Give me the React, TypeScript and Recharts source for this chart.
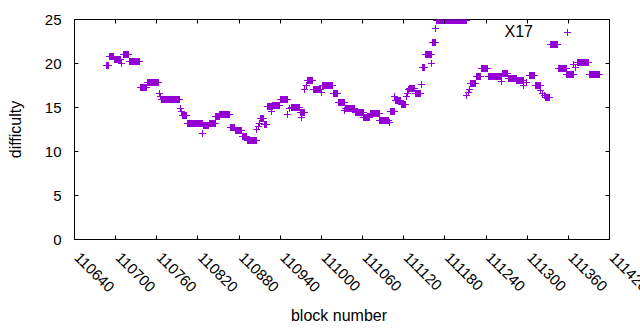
import React from 'react';
import { ScatterChart, Scatter, XAxis, YAxis, ReferenceLine, Legend } from 'recharts';

// ---- data ----
const SERIES_NAME = 'X17';
const X_LABEL = 'block number';
const Y_LABEL = 'difficulty';

const xTicks = [110640, 110700, 110760, 110820, 110880, 110940, 111000, 111060, 111120, 111180, 111240, 111300, 111360, 111420];
const yTicks = [0, 5, 10, 15, 20, 25];

// runs of consecutive blocks sharing the same difficulty
const runStart = [
  110686, 110691, 110698, 110711, 110720, 110736, 110746, 110767, 110797, 110805,
  110828, 110837, 110846, 110852, 110867, 110874, 110885, 110892, 110911, 110917,
  110921, 110929, 110940, 110956, 110969, 110979, 110988, 111001, 111017, 111025,
  111035, 111049, 111062, 111071, 111085, 111100, 111108, 111117, 111128, 111137,
  111147, 111152, 111162, 111168, 111217, 111226, 111233, 111243, 111264, 111273,
  111285, 111304, 111312, 111327, 111334, 111345, 111358, 111374, 111391,
];
const runEnd = [
  110690, 110697, 110707, 110719, 110735, 110745, 110762, 110793, 110804, 110826,
  110836, 110845, 110851, 110866, 110873, 110884, 110891, 110905, 110916, 110920,
  110928, 110939, 110951, 110968, 110975, 110987, 110999, 111016, 111024, 111033,
  111048, 111061, 111070, 111084, 111098, 111106, 111116, 111123, 111136, 111144,
  111151, 111161, 111167, 111211, 111225, 111232, 111242, 111263, 111272, 111284,
  111294, 111311, 111319, 111333, 111344, 111357, 111367, 111390, 111406,
];
const runValue = [
  19.8, 20.8, 20.4, 21.0, 20.2, 17.3, 17.8, 15.9, 14.1, 13.15,
  12.95, 13.2, 14.0, 14.2, 12.7, 12.4, 11.7, 11.25, 13.75, 13.1,
  15.1, 15.2, 15.9, 15.05, 14.4, 18.05, 17.0, 17.45, 16.55, 15.6,
  14.85, 14.4, 13.85, 14.35, 13.5, 14.6, 15.75, 15.3, 17.2, 16.55,
  19.6, 21.0, 22.35, 24.9, 17.7, 18.5, 19.4, 18.55, 18.9, 18.25,
  18.05, 18.6, 17.5, 16.1, 22.15, 19.4, 18.8, 20.1, 18.75,
];

// isolated blocks
const singleBlock = [
  110709, 110764, 110766, 110795, 110796, 110827, 110906, 110908, 110909, 110927,
  110950, 110953, 110971, 110976, 110978, 111000, 111034, 111099, 111107, 111124,
  111126, 111127, 111146, 111160, 111166, 111212, 111214, 111216, 111263, 111294,
  111299, 111320, 111322, 111325, 111368, 111370,
];
const singleValue = [
  20.0, 16.55, 16.3, 14.9, 14.5, 12.1, 12.5, 12.85, 13.15, 14.6,
  14.2, 14.85, 13.9, 17.1, 17.5, 16.75, 14.65, 13.3, 16.2, 16.2,
  16.6, 17.0, 17.6, 20.0, 24.0, 16.4, 16.7, 17.0, 17.9, 17.5,
  17.8, 16.9, 16.6, 16.4, 19.85, 19.5,
];

type Pt = { block: number; difficulty: number };
const points: Pt[] = [];
runStart.forEach((s, i) => {
  for (let b = s; b <= runEnd[i]; b++) points.push({ block: b, difficulty: runValue[i] });
});
singleBlock.forEach((b, i) => points.push({ block: b, difficulty: singleValue[i] }));

// ---- style ----
const COLOR = '#9400D3';
const FONT = '"Liberation Sans", Arial, sans-serif';
const W = 640;
const H = 330;
const M_TOP = 19.5;
const M_RIGHT = 30.5;
const Y_AXIS_W = 74.5;
const X_AXIS_H = 90.5;
const PLOT_TOP = M_TOP;
const PLOT_RIGHT = W - M_RIGHT;
const TICK = 4;

const snap = (v: number) => Math.round(v - 0.5) + 0.5;

const Cross = (props: any) => {
  const { cx, cy } = props;
  if (cx == null || cy == null || isNaN(cx) || isNaN(cy)) return <g />;
  const x = snap(cx);
  const y = snap(cy);
  const a = 3.5;
  return (
    <path
      d={`M${x - a},${y}H${x + a}M${x},${y - a}V${y + a}`}
      stroke={COLOR}
      strokeWidth={1}
      fill="none"
    />
  );
};

const XTick = (props: any) => {
  const { x, y, payload } = props;
  const px = snap(x);
  const tx = x - 1;
  const ty = y + 19;
  return (
    <g>
      <line x1={px} x2={px} y1={y} y2={y - TICK} stroke="#000" strokeWidth={1} />
      <line x1={px} x2={px} y1={PLOT_TOP} y2={PLOT_TOP + TICK} stroke="#000" strokeWidth={1} />
      <text
        x={tx}
        y={ty}
        transform={`rotate(45 ${tx} ${ty})`}
        textAnchor="start"
        fontFamily={FONT}
        fontSize={15}
        fill="#000"
      >
        {payload.value}
      </text>
    </g>
  );
};

const YTick = (props: any) => {
  const { x, y, payload } = props;
  const py = snap(y);
  return (
    <g>
      <line x1={x} x2={x + TICK} y1={py} y2={py} stroke="#000" strokeWidth={1} />
      <line x1={PLOT_RIGHT} x2={PLOT_RIGHT - TICK} y1={py} y2={py} stroke="#000" strokeWidth={1} />
      <text x={x - 13} y={y + 5} textAnchor="end" fontFamily={FONT} fontSize={15} fill="#000">
        {payload.value}
      </text>
    </g>
  );
};

const XTitle = (props: any) => {
  const vb = props.viewBox || { x: 0, y: 0, width: 0, height: 0 };
  const cx = vb.x + vb.width / 2 - 3;
  return (
    <text x={cx} y={vb.y + 81} textAnchor="middle" fontFamily={FONT} fontSize={16} fill="#000">
      {X_LABEL}
    </text>
  );
};

const YTitle = (props: any) => {
  const vb = props.viewBox || { x: 0, y: 0, width: 0, height: 0 };
  const cy = vb.y + vb.height / 2;
  const bx = 21;
  return (
    <text
      x={bx}
      y={cy}
      transform={`rotate(-90 ${bx} ${cy})`}
      textAnchor="middle"
      fontFamily={FONT}
      fontSize={16}
      fill="#000"
    >
      {Y_LABEL}
    </text>
  );
};

const LegendContent = (props: any) => {
  const item = (props.payload || [])[0];
  return (
    <svg width={W} height={50} style={{ display: 'block' }}>
      <text x={533} y={37} textAnchor="end" fontFamily={FONT} fontSize={16} fill="#000">
        {item ? item.value : SERIES_NAME}
      </text>
      <Cross cx={567} cy={32} />
    </svg>
  );
};

export default function App() {
  return (
    <div style={{ position: 'absolute', left: 0, top: 0, width: W, height: H, background: '#fff' }}>
      <ScatterChart width={W} height={H} margin={{ top: M_TOP, right: M_RIGHT, bottom: 0, left: 0 }}>
        <XAxis
          type="number"
          dataKey="block"
          domain={[xTicks[0], xTicks[xTicks.length - 1]]}
          ticks={xTicks}
          interval={0}
          allowDataOverflow
          height={X_AXIS_H}
          tickSize={0}
          tickMargin={0}
          tickLine={false}
          tick={<XTick />}
          axisLine={{ stroke: '#000', strokeWidth: 1 }}
          label={<XTitle />}
        />
        <YAxis
          type="number"
          dataKey="difficulty"
          domain={[yTicks[0], yTicks[yTicks.length - 1]]}
          ticks={yTicks}
          interval={0}
          allowDataOverflow
          width={Y_AXIS_W}
          tickSize={0}
          tickMargin={0}
          tickLine={false}
          tick={<YTick />}
          axisLine={{ stroke: '#000', strokeWidth: 1 }}
          label={<YTitle />}
        />
        <ReferenceLine y={yTicks[yTicks.length - 1]} stroke="#000" strokeWidth={1} ifOverflow="visible" />
        <ReferenceLine x={xTicks[xTicks.length - 1]} stroke="#000" strokeWidth={1} ifOverflow="visible" />
        <Legend
          layout="vertical"
          align="center"
          verticalAlign="middle"
          content={<LegendContent />}
          wrapperStyle={{ position: 'absolute', left: 0, top: 0, width: W, height: 50, margin: 0, padding: 0 }}
        />
        <Scatter
          name={SERIES_NAME}
          data={points}
          fill={COLOR}
          shape={<Cross />}
          isAnimationActive={false}
        />
      </ScatterChart>
    </div>
  );
}
